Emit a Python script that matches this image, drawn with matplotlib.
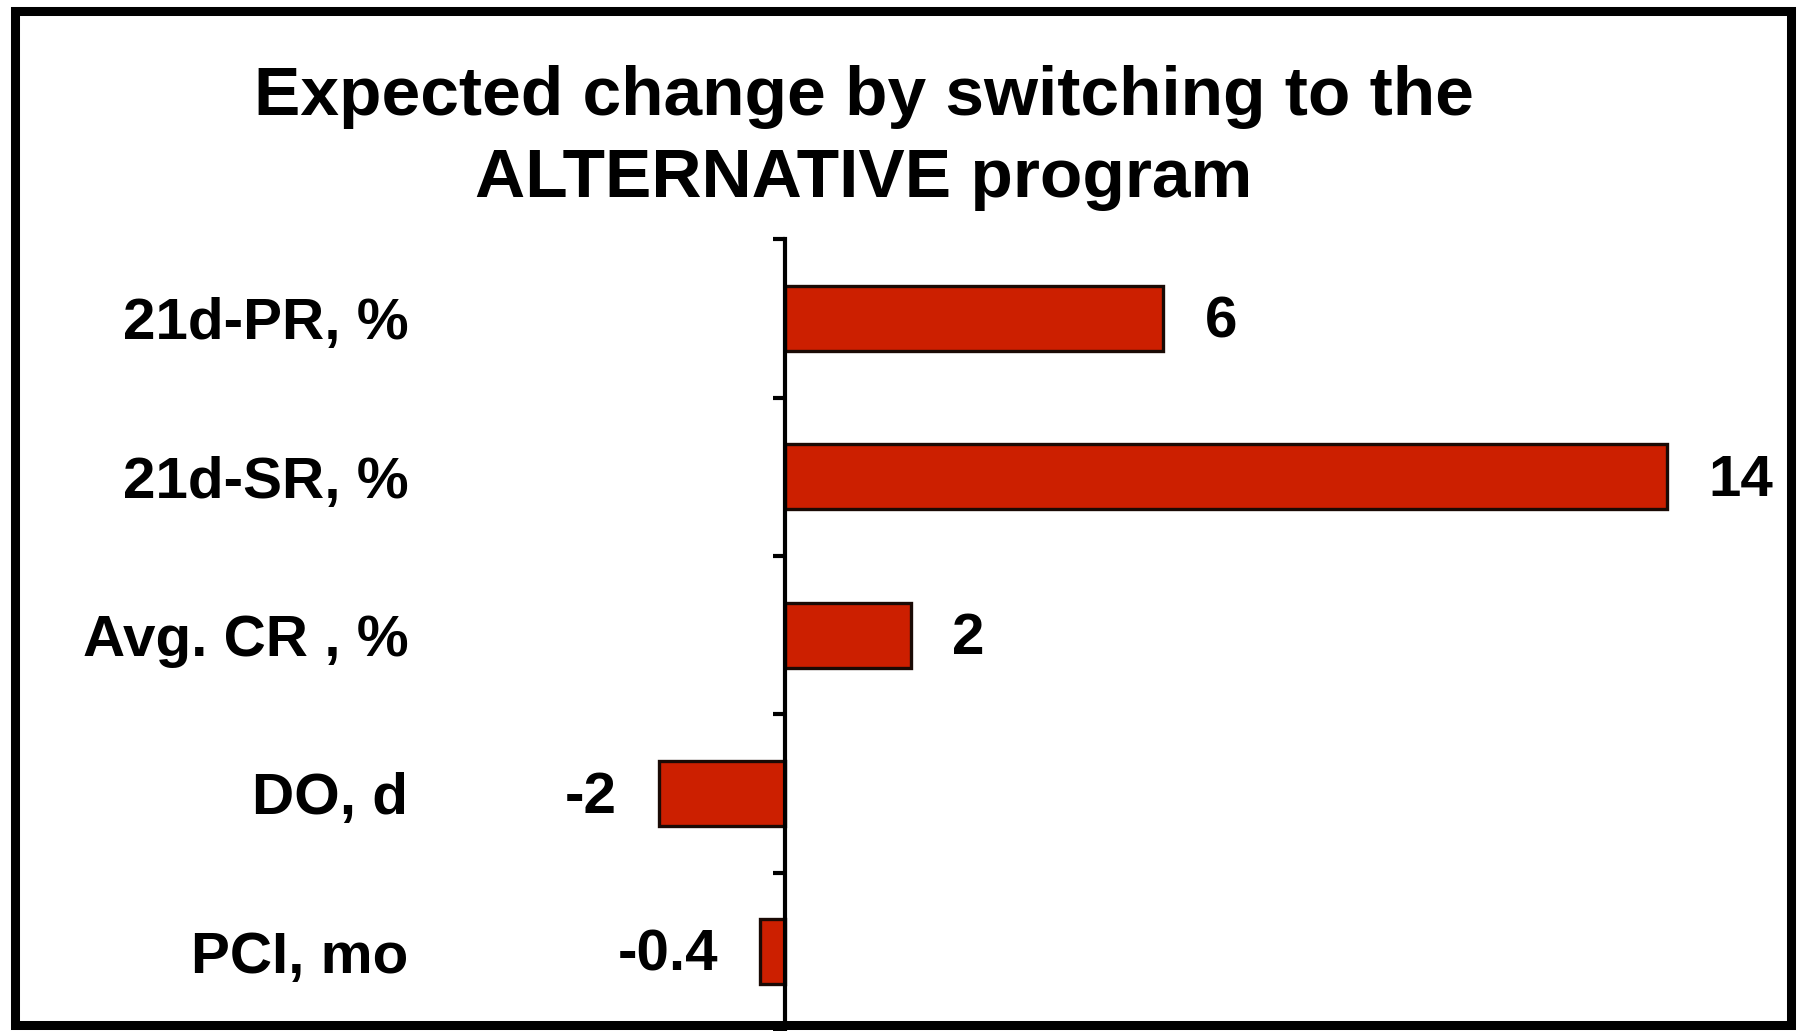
import matplotlib
matplotlib.use("Agg")
import matplotlib.pyplot as plt
from matplotlib.patches import Rectangle

# 切换到替代方案后的预期变化
categories = ["21d-PR, %", "21d-SR, %", "Avg. CR , %", "DO, d", "PCI, mo"]
changes = [6, 14, 2, -2, -0.4]
value_labels = ["6", "14", "2", "-2", "-0.4"]

plt.rcParams["font.family"] = ["Liberation Sans", "DejaVu Sans"]
plt.rcParams["font.weight"] = "bold"

fig = plt.figure(figsize=(18, 10.31), dpi=100)
ax = fig.add_axes([0.24, 0.0, 0.749, 0.768])

y = list(range(len(categories)))
ax.barh(y, changes, height=0.41, color="#CC1F00", edgecolor="#1a0a05", linewidth=2.4, zorder=2)

ax.set_xlim(-5.6, 15.8)
ax.set_ylim(len(categories) - 0.5, -0.5)
ax.set_xticks([])

# 零值处的纵轴, 刻度在类别之间
ax.spines["right"].set_position(("data", 0))
ax.spines["right"].set_linewidth(3)
ax.spines["right"].set_zorder(3)
for side in ["left", "top", "bottom"]:
    ax.spines[side].set_visible(False)
ax.set_yticks([i - 0.5 for i in range(len(categories) + 1)], minor=True)
ax.tick_params(axis="y", which="minor", left=False, right=True, direction="in",
               length=9, width=3)

# 类别标签放在绘图区左侧
ax.set_yticks(y, categories)
ax.tick_params(axis="y", which="major", left=True, right=False, length=0, pad=17,
               labelsize=42)
for t in ax.get_yticklabels():
    t.set_fontweight("bold")

for yi, v, lab in zip(y, changes, value_labels):
    off = 30 if v >= 0 else -30
    ax.annotate(lab, xy=(v, yi), xytext=(off, -3), textcoords="offset points",
                ha="left" if v >= 0 else "right", va="center",
                fontsize=42, fontweight="bold")

fig.text(0.48, 1 - 115 / 1031, "Expected change by switching to the",
         ha="center", va="baseline", fontsize=50, fontweight="bold")
fig.text(0.48, 1 - 197 / 1031, "ALTERNATIVE program",
         ha="center", va="baseline", fontsize=50, fontweight="bold")

# 外框
fig.patches.append(Rectangle((15 / 1800, 6 / 1031), 1776 / 1800, 1014 / 1031,
                             transform=fig.transFigure, fill=False,
                             edgecolor="black", linewidth=6.5))

fig.savefig("out.png", dpi=100)
